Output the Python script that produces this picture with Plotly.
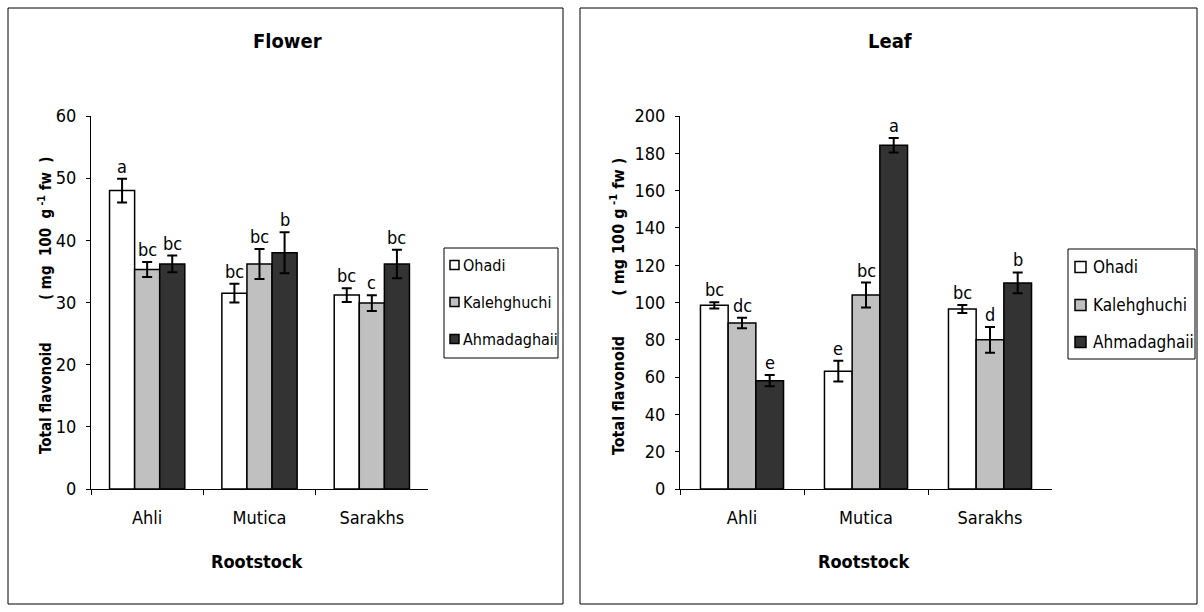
import plotly.graph_objects as go

W, H = 1204, 612

categories = ["Ahli", "Mutica", "Sarakhs"]
series_names = ["Ohadi", "Kalehghuchi", "Ahmadaghaii"]
colors = ["#ffffff", "#c0c0c0", "#333333"]

flower_ohadi = [48.0, 31.5, 31.2]
flower_kaleh = [35.3, 36.2, 29.9]
flower_ahmad = [36.2, 38.0, 36.2]
flower_err_ohadi = [1.9, 1.5, 1.1]
flower_err_kaleh = [1.2, 2.4, 1.25]
flower_err_ahmad = [1.35, 3.3, 2.3]
flower_letters_ohadi = ["a", "bc", "bc"]
flower_letters_kaleh = ["bc", "bc", "c"]
flower_letters_ahmad = ["bc", "b", "bc"]

leaf_ohadi = [98.5, 63.2, 96.5]
leaf_kaleh = [89.0, 104.0, 80.0]
leaf_ahmad = [58.1, 184.3, 110.5]
leaf_err_ohadi = [1.7, 5.6, 2.1]
leaf_err_kaleh = [2.8, 6.7, 6.9]
leaf_err_ahmad = [3.0, 3.9, 5.6]
leaf_letters_ohadi = ["bc", "e", "bc"]
leaf_letters_kaleh = ["dc", "bc", "d"]
leaf_letters_ahmad = ["e", "a", "b"]

flower_ticks = [0, 10, 20, 30, 40, 50, 60]
leaf_ticks = [0, 20, 40, 60, 80, 100, 120, 140, 160, 180, 200]

FONT = "DejaVu Sans Condensed, sans-serif"

def px(x):
    return x / W

def py(y):
    return 1 - y / H

fig = go.Figure()

BARGAP = 0.33

panels = [
    dict(vals=[flower_ohadi, flower_kaleh, flower_ahmad],
         errs=[flower_err_ohadi, flower_err_kaleh, flower_err_ahmad],
         letters=[flower_letters_ohadi, flower_letters_kaleh, flower_letters_ahmad],
         xa="x", ya="y", wpx=428 - 91,
         leg=dict(x0=444, x1=558, y0=248, y1=358, sw=(450, 459), tx=461,
                  ys=[265, 302, 339], size=16, swh=9)),
    dict(vals=[leaf_ohadi, leaf_kaleh, leaf_ahmad],
         errs=[leaf_err_ohadi, leaf_err_kaleh, leaf_err_ahmad],
         letters=[leaf_letters_ohadi, leaf_letters_kaleh, leaf_letters_ahmad],
         xa="x2", ya="y2", wpx=1052 - 680,
         leg=dict(x0=1068, x1=1195, y0=249, y1=359, sw=(1075, 1086), tx=1091,
                  ys=[267, 305, 342], size=17, swh=11)),
]

for p in panels:
    for i in range(3):
        fig.add_trace(go.Bar(
            x=categories, y=p["vals"][i], name=series_names[i],
            marker=dict(color=colors[i], line=dict(color="black", width=1.5)),
            error_y=dict(type="data", array=p["errs"][i], color="black",
                         thickness=2, width=5),
            xaxis=p["xa"], yaxis=p["ya"], showlegend=False,
            offsetgroup=str(i),
        ))

annotations = []
shapes = []
for p in panels:
    cat_w = p["wpx"] / 3
    bar_w = cat_w * (1 - BARGAP) / 3
    for i in range(3):
        for j, c in enumerate(categories):
            annotations.append(dict(
                x=c, y=p["vals"][i][j] + p["errs"][i][j],
                xref=p["xa"], yref=p["ya"], text=p["letters"][i][j],
                showarrow=False, xanchor="center", yanchor="bottom", yshift=0,
                xshift=(i - 1) * bar_w,
                font=dict(size=18, color="black", family=FONT),
            ))
    L = p["leg"]
    shapes.append(dict(type="rect", xref="paper", yref="paper",
                       x0=px(L["x0"]), x1=px(L["x1"]), y0=py(L["y1"]), y1=py(L["y0"]),
                       line=dict(color="black", width=1), fillcolor="white", layer="above"))
    for i, name in enumerate(series_names):
        yc = L["ys"][i]
        h = L["swh"] / 2
        shapes.append(dict(type="rect", xref="paper", yref="paper",
                           x0=px(L["sw"][0]), x1=px(L["sw"][1]),
                           y0=py(yc + h), y1=py(yc - h),
                           line=dict(color="black", width=1.5), fillcolor=colors[i],
                           layer="above"))
        annotations.append(dict(x=px(L["tx"]), y=py(yc), xref="paper", yref="paper",
                                text=name, showarrow=False, xanchor="left",
                                yanchor="middle",
                                font=dict(size=L["size"], family=FONT)))

axis_common = dict(showline=True, linecolor="black", linewidth=1,
                   tickcolor="black", showgrid=False, zeroline=False)

fig.update_layout(
    width=W, height=H,
    margin=dict(l=0, r=0, t=0, b=0, autoexpand=False),
    paper_bgcolor="white", plot_bgcolor="white",
    barmode="group", bargap=BARGAP, bargroupgap=0,
    font=dict(family=FONT, color="black", size=17),
    showlegend=False,
    xaxis=dict(domain=[px(91), px(428)], anchor="y", type="category",
               ticks="outside", ticklen=5, tickson="boundaries",
               ticklabelstandoff=12, tickfont=dict(size=18), **axis_common),
    yaxis=dict(domain=[py(489), py(116)], anchor="x", range=[0, 60],
               tickvals=flower_ticks, ticks="outside", ticklen=4,
               ticklabelstandoff=6, tickfont=dict(size=18), **axis_common),
    xaxis2=dict(domain=[px(680), px(1052)], anchor="y2", type="category",
                ticks="outside", ticklen=5, tickson="boundaries",
                ticklabelstandoff=12, tickfont=dict(size=18), **axis_common),
    yaxis2=dict(domain=[py(489), py(116)], anchor="x2", range=[0, 200],
                tickvals=leaf_ticks, ticks="outside", ticklen=4,
                ticklabelstandoff=6, tickfont=dict(size=18), **axis_common),
)

annotations += [
    dict(x=px(287), y=py(41), xref="paper", yref="paper", text="<b>Flower</b>",
         showarrow=False, xanchor="center", yanchor="middle",
         font=dict(size=20, family=FONT)),
    dict(x=px(890), y=py(41), xref="paper", yref="paper", text="<b>Leaf</b>",
         showarrow=False, xanchor="center", yanchor="middle",
         font=dict(size=20, family=FONT)),
    dict(x=px(257), y=py(561), xref="paper", yref="paper", text="<b>Rootstock</b>",
         showarrow=False, xanchor="center", yanchor="middle",
         font=dict(size=18, family=FONT)),
    dict(x=px(864), y=py(561), xref="paper", yref="paper", text="<b>Rootstock</b>",
         showarrow=False, xanchor="center", yanchor="middle",
         font=dict(size=18, family=FONT)),
    dict(x=px(45), y=py(305), xref="paper", yref="paper", textangle=-90,
         xanchor="center", yanchor="middle",
         text="<b>Total flavonoid" + "&#160;" * 9 + "( mg&#160;&#160;100&#160;&#160;g<sup> -1</sup> fw&#160;&#160;)</b>",
         showarrow=False, font=dict(size=15, family=FONT)),
    dict(x=px(617), y=py(307), xref="paper", yref="paper", textangle=-90,
         xanchor="center", yanchor="middle",
         text="<b>Total flavonoid" + "&#160;" * 8 + "( mg 100 g<sup> -1</sup> fw )</b>",
         showarrow=False, font=dict(size=16, family=FONT)),
]
fig.update_layout(annotations=annotations)

shapes += [
    dict(type="rect", xref="paper", yref="paper",
         x0=px(8), x1=px(563), y0=py(604), y1=py(8),
         line=dict(color="black", width=1)),
    dict(type="rect", xref="paper", yref="paper",
         x0=px(580), x1=px(1197), y0=py(604), y1=py(8),
         line=dict(color="black", width=1)),
]
fig.update_layout(shapes=shapes)

fig.write_html("out.html", config={"displayModeBar": False},
               post_script="document.body.style.margin='0px';document.body.style.padding='0px';")
